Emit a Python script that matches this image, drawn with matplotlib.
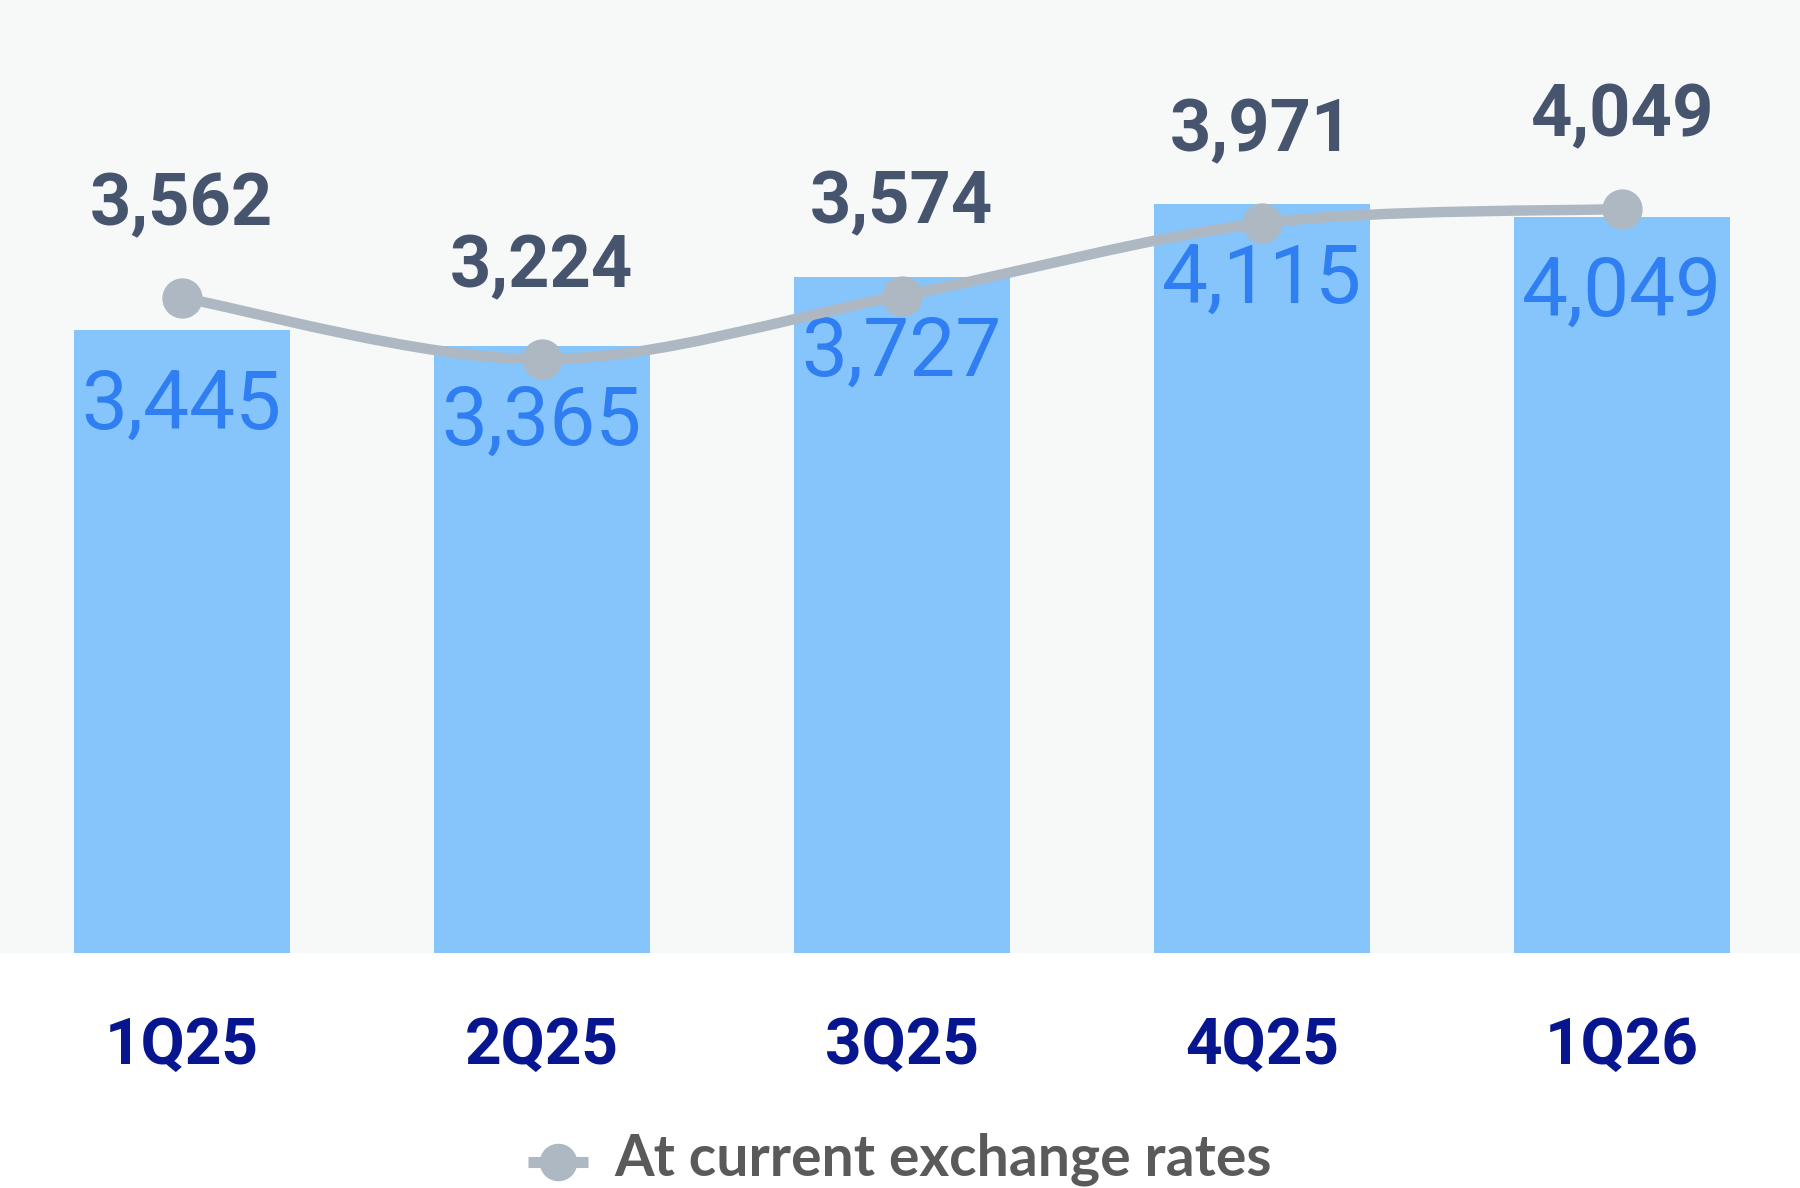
import matplotlib
matplotlib.use('Agg')
import matplotlib.pyplot as plt
from matplotlib.path import Path
from matplotlib.patches import PathPatch
from matplotlib.lines import Line2D

# data
quarters = ['1Q25', '2Q25', '3Q25', '4Q25', '1Q26']
constant_fx = [3445, 3365, 3727, 4115, 4049]
current_fx = [3562, 3224, 3574, 3971, 4049]

BG = '#f7f9f9'
BAR = '#86c5fb'
BAR_TXT = '#2f7ff3'
LINE = '#adb8c2'
LINE_TXT = '#46546e'
TICK = '#07158f'
LEGEND_TXT = '#5a5a5a'


def smooth_path(xs, ys):
    """Catmull-Rom curve through the points, as cubic bezier segments."""
    pts = list(zip(xs, ys))
    verts = [pts[0]]
    codes = [Path.MOVETO]
    for i in range(len(pts) - 1):
        p0 = pts[i - 1] if i > 0 else pts[i]
        p1 = pts[i]
        p2 = pts[i + 1]
        p3 = pts[i + 2] if i + 2 < len(pts) else pts[i + 1]
        c1 = (p1[0] + (p2[0] - p0[0]) / 6, p1[1] + (p2[1] - p0[1]) / 6)
        c2 = (p2[0] - (p3[0] - p1[0]) / 6, p2[1] - (p3[1] - p1[1]) / 6)
        verts += [c1, c2, p2]
        codes += [Path.CURVE4] * 3
    return Path(verts, codes)


fig = plt.figure(figsize=(18, 11.88), dpi=100)
fig.patch.set_facecolor('white')
ax = fig.add_axes([0, 0.198, 1, 0.802])
ax.set_facecolor(BG)
x = list(range(len(quarters)))

ax.bar(x, constant_fx, width=0.6, color=BAR, zorder=2)
ax.set_xlim(-0.505, 4.495)
ax.set_ylim(144, 5198)

for xi, v in zip(x, constant_fx):
    ax.annotate(f'{v:,}', (xi, v), xytext=(0, -71), textcoords='offset points',
                ha='center', va='baseline', fontsize=59, color=BAR_TXT,
                family='Roboto', zorder=5)

ax2 = ax.twinx()
ax2.set_ylim(-31, 5195)
ax2.add_patch(PathPatch(smooth_path(x, current_fx), fill=False,
                        edgecolor=LINE, lw=7.5, capstyle='round', zorder=3))
ax2.plot(x, current_fx, 'o', color=LINE, markersize=28, zorder=4)
for xi, v in zip(x, current_fx):
    ax2.annotate(f'{v:,}', (xi, v), xytext=(0, 52), textcoords='offset points',
                 ha='center', va='baseline', fontsize=52, fontweight='bold',
                 color=LINE_TXT, family='Roboto', zorder=5)

ax.set_xticks(x, quarters)
ax.tick_params(axis='x', length=0, pad=80)
for lab in ax.get_xticklabels():
    lab.set_verticalalignment('baseline')
    lab.set_fontsize(46)
    lab.set_fontweight('bold')
    lab.set_color(TICK)
    lab.set_family('Roboto')
ax.set_yticks([])
ax2.set_yticks([])
for a in (ax, ax2):
    for s in a.spines.values():
        s.set_visible(False)

# legend at the bottom
fig.add_artist(Line2D([528 / 1800, 588 / 1800], [26 / 1188, 26 / 1188],
                      color=LINE, lw=8, solid_capstyle='butt'))
fig.add_artist(Line2D([558 / 1800], [26 / 1188], marker='o', color=LINE,
                      markersize=26))
fig.text(614 / 1800, 13 / 1188, 'At current exchange rates', ha='left',
         va='baseline', fontsize=41, fontweight='bold', color=LEGEND_TXT,
         family='Lato')

fig.savefig('out.png', dpi=100, facecolor='white')
